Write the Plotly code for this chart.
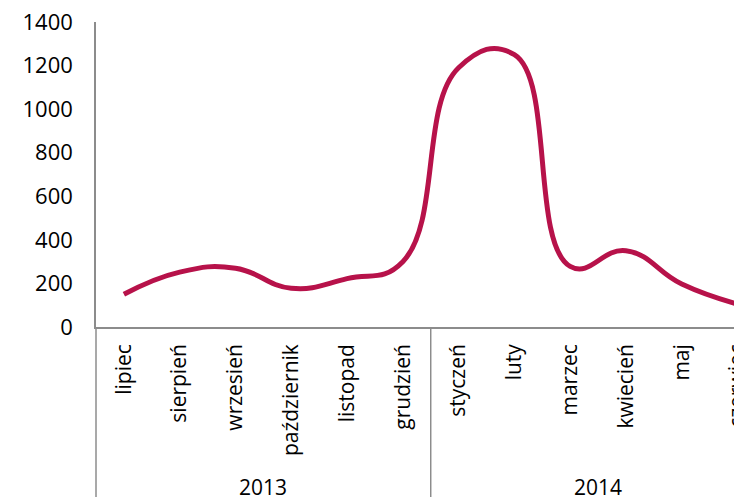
import plotly.graph_objects as go

months = ["lipiec", "sierpień", "wrzesień", "październik", "listopad", "grudzień",
          "styczeń", "luty", "marzec", "kwiecień", "maj", "czerwiec"]
years = ["2013", "2014"]
months_per_year = [6, 6]
values = [150, 252, 270, 178, 222, 300, 1190, 1250, 278, 350, 197, 105]
y_ticks = [0, 200, 400, 600, 800, 1000, 1200, 1400]

FONT = "Open Sans"
LINE_COLOR = "#B7124A"
AXIS_COLOR = "#8C8C8C"

x_idx = list(range(len(months)))

fig = go.Figure()
fig.add_trace(go.Scatter(
    x=x_idx, y=values, mode="lines",
    line=dict(color=LINE_COLOR, width=5, shape="spline", smoothing=1.3),
    hoverinfo="skip", showlegend=False,
))

# the page body has an 8px margin; the figure fills the rest of the window
W, H = 734, 489
ml, mr, mt, mb = 88, 0, 14, 170
plot_h = H - mt - mb

fig.update_layout(
    width=W, height=H,
    margin=dict(l=ml, r=mr, t=mt, b=mb, autoexpand=False),
    paper_bgcolor="white", plot_bgcolor="white",
    font=dict(family=FONT, size=21, color="#000000"),
    showlegend=False,
)
fig.update_xaxes(
    range=[-0.5, 11.08], automargin=False,
    tickmode="array", tickvals=x_idx, ticktext=months,
    tickangle=-90, tickfont=dict(family=FONT, size=21),
    ticklabelstandoff=7, ticklabeloverflow="allow",
    showgrid=False, zeroline=False,
    showline=True, linecolor=AXIS_COLOR, linewidth=1.5,
    ticks="",
)
fig.update_yaxes(
    range=[0, 1400], automargin=False,
    tickmode="array", tickvals=y_ticks,
    tickfont=dict(family=FONT, size=22),
    ticklabelstandoff=17, ticklabeloverflow="allow",
    showgrid=False, zeroline=False,
    showline=True, linecolor=AXIS_COLOR, linewidth=1.5,
    ticks="",
)

# category-group dividers and year labels
bottom = -(mb + 10) / plot_h
fig.add_shape(type="line", xref="paper", yref="paper", x0=0, x1=0, y0=0, y1=bottom,
              line=dict(color=AXIS_COLOR, width=1.5))
start = 0
for yr, n in zip(years, months_per_year):
    end = start + n
    if start > 0:
        fig.add_shape(type="line", xref="x", yref="paper", x0=start - 0.5, x1=start - 0.5,
                      y0=0, y1=bottom, line=dict(color=AXIS_COLOR, width=1.5))
    fig.add_annotation(x=(start + end - 1) / 2, xref="x", y=(319 - 479) / plot_h, yref="paper",
                       text=yr, showarrow=False, font=dict(family=FONT, size=21),
                       xanchor="center", yanchor="middle")
    start = end

fig.write_html("out.html")
